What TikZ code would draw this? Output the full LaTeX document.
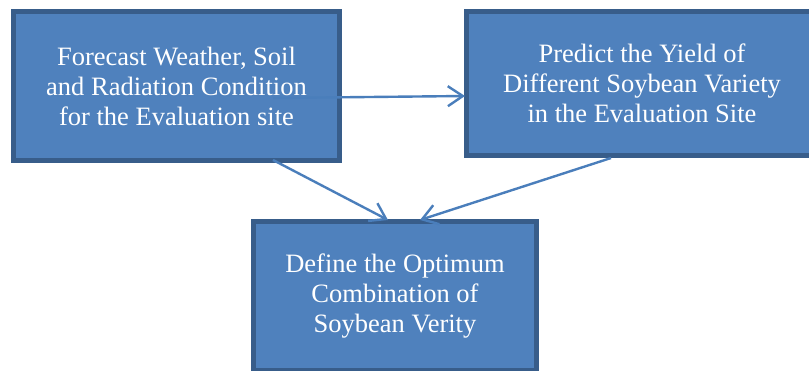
\documentclass[tikz,border=0pt]{standalone}
\usepackage{fontspec}
\setmainfont{Liberation Serif}
\usetikzlibrary{arrows.meta}
\definecolor{boxfill}{HTML}{4F81BD}
\definecolor{boxline}{HTML}{385D8A}
\definecolor{flow}{HTML}{4A7EBB}
\tikzset{
  stage/.style={rectangle, draw=boxline, fill=boxfill, line width=5pt,
    text=white, align=center, inner sep=0pt,
    font=\fontsize{26.5}{30}\selectfont},
  link/.style={draw=flow, line width=2.4pt,
    -{Straight Barb[length=15pt,width=20pt,line width=2.4pt]}}
}
\begin{document}
\begin{tikzpicture}[x=1pt,y=-1pt]
  \useasboundingbox (0,0) rectangle (809,370);

  \node[stage, minimum width=326pt, minimum height=149pt] (forecast) at (176.5,86)
    {Forecast Weather, Soil\\and Radiation Condition\\for the Evaluation site};
  \node[stage, minimum width=351pt, minimum height=144pt] (predict) at (642,83.5)
    {Predict the Yield of\\Different Soybean Variety\\in the Evaluation Site};
  \node[stage, minimum width=283pt, minimum height=149pt] (define) at (395,296)
    {Define the Optimum\\Combination of\\Soybean Verity};

  % connector end points on the boxes
  \coordinate (fc-out1) at (273,98);
  \coordinate (pr-in)   at (465,96);
  \coordinate (fc-out2) at (273,160);
  \coordinate (pr-out)  at (611,158);
  \coordinate (df-in1)  at (388,220);
  \coordinate (df-in2)  at (420,220);

  \draw[link] (fc-out1) -- (pr-in);
  \draw[link] (fc-out2) -- (df-in1);
  \draw[link] (pr-out) -- (df-in2);
\end{tikzpicture}
\end{document}
